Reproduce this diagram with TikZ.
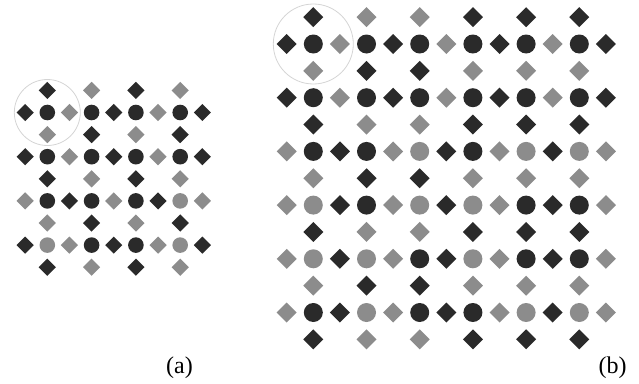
\documentclass[tikz,border=0pt]{standalone}
\usepackage{fontspec}
\setmainfont{Liberation Serif}
\definecolor{cD}{HTML}{2A2A2A}
\definecolor{cL}{HTML}{8C8C8C}
\definecolor{ringc}{HTML}{D4D4D4}
% #1 x0, #2 y0, #3 sx, #4 sy, #5 circle radius, #6 diamond half-diagonal,
% #7 circle rows, #8 horizontal-diamond rows, #9 vertical-diamond rows
\newcommand\drawpanel[9]{%
  \foreach \row [count=\j from 0] in {#7}{%
    \foreach \cc [count=\i from 0] in \row {%
      \fill[fill=c\cc] ({#1+\i*#3},{#2+\j*#4}) circle[radius=#5pt];}}
  \foreach \row [count=\j from 0] in {#8}{%
    \foreach \cc [count=\k from 0] in \row {%
      \fill[fill=c\cc] ({#1+(\k-0.5)*#3},{#2+\j*#4}) +(0,#6) -- +(#6,0) -- +(0,-#6) -- +(-#6,0) -- cycle;}}
  \foreach \row [count=\m from 0] in {#9}{%
    \foreach \cc [count=\i from 0] in \row {%
      \fill[fill=c\cc] ({#1+\i*#3},{#2+(\m-0.5)*#4}) +(0,#6) -- +(#6,0) -- +(0,-#6) -- +(-#6,0) -- cycle;}}
}
\tikzset{ringline/.style={draw=ringc, line width=0.8pt},
  lab/.style={font=\fontsize{24}{28}\selectfont, inner sep=0pt}}
\begin{document}
\begin{tikzpicture}[x=1pt,y=-1pt]
\useasboundingbox (0,0) rectangle (639,383);
% panel (a)
\drawpanel{47.3}{112.5}{44.3}{44.2}{7.8}{8.6}%
  {{D,D,D,D},{D,D,D,D},{D,D,D,L},{L,D,D,L}}%
  {{D,L,D,L,D},{D,L,D,L,D},{L,D,L,D,L},{D,L,D,L,D}}%
  {{D,L,D,L},{L,D,L,D},{D,L,D,L},{L,D,L,D},{D,L,D,L}}
\draw[ringline] (47.3,112.5) circle[radius=33pt];
% panel (b)
\drawpanel{313.3}{44}{53.2}{53.7}{9.5}{10}%
  {{D,D,D,D,D,D},{D,D,D,D,D,D},{D,D,L,D,L,L},{L,D,L,L,D,D},{L,L,D,L,D,D},{D,L,D,D,L,L}}%
  {{D,L,D,L,D,L,D},{D,L,D,L,D,L,D},{L,D,L,D,L,D,L},{L,D,L,D,L,D,L},{L,D,L,D,L,D,L},{L,D,L,D,L,D,L}}%
  {{D,L,L,D,D,D},{L,D,D,L,L,L},{D,L,L,D,D,D},{L,D,D,L,L,L},{D,L,L,D,D,D},{L,D,D,L,L,L},{D,L,L,D,D,D}}
\draw[ringline] (313.3,44) circle[radius=40pt];
% labels
\node[lab] (la) at (179.5,367.5) {(a)};
\node[lab] (lb) at (612.5,367.5) {(b)};
\end{tikzpicture}
\end{document}
